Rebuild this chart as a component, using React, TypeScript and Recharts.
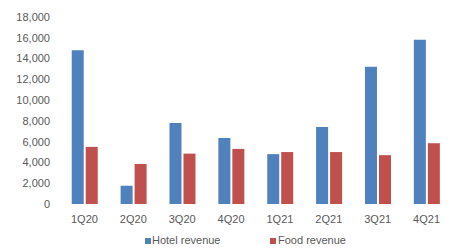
import React from 'react';
import { BarChart, Bar, XAxis, YAxis } from 'recharts';

const quarters = ['1Q20', '2Q20', '3Q20', '4Q20', '1Q21', '2Q21', '3Q21', '4Q21'];
const hotelRevenue = [14800, 1750, 7800, 6350, 4800, 7400, 13200, 15800];
const foodRevenue = [5500, 3850, 4850, 5300, 5000, 5000, 4700, 5850];
const yTicks = [0, 2000, 4000, 6000, 8000, 10000, 12000, 14000, 16000, 18000];

const data = quarters.map((q, i) => ({
  quarter: q,
  hotel: hotelRevenue[i],
  food: foodRevenue[i],
}));

const font = '"Liberation Sans", Arial, sans-serif';
const textColor = '#595959';

const LegendBox = () => (
  <div style={{ position: 'absolute', left: 0, top: 234, width: 465, height: 13, fontFamily: font, fontSize: 11, lineHeight: '13px', color: textColor }}>
    <div style={{ position: 'absolute', left: 145, top: 0, display: 'flex', alignItems: 'center' }}>
      <span style={{ width: 6, height: 6, background: '#4F81BD', marginRight: 1 }} />
      <span>Hotel revenue</span>
    </div>
    <div style={{ position: 'absolute', left: 270, top: 0, display: 'flex', alignItems: 'center' }}>
      <span style={{ width: 6, height: 6, background: '#C0504D', marginRight: 2 }} />
      <span>Food revenue</span>
    </div>
  </div>
);

export default function App() {
  return (
    <div style={{ position: 'relative', width: 465, height: 248, overflow: 'hidden', background: '#fff' }}>
      <style>{`body{margin:0}`}</style>
      <BarChart
        width={465}
        height={248}
        data={data}
        margin={{ top: 17, right: 14, left: 2, bottom: 24 }}
        barCategoryGap="24%"
        barGap={2}
      >
        <XAxis
          dataKey="quarter"
          axisLine={false}
          tickLine={false}
          tickMargin={5}
          interval={0}
          height={20}
          tick={{ fill: textColor, fontSize: 11, fontFamily: font }}
        />
        <YAxis
          width={58}
          domain={[0, 18000]}
          ticks={yTicks}
          interval={0}
          axisLine={false}
          tickLine={false}
          tickMargin={4}
          tickFormatter={(v: number) => v.toLocaleString('en-US')}
          tick={{ fill: textColor, fontSize: 11, fontFamily: font }}
        />
        <Bar dataKey="hotel" name="Hotel revenue" fill="#4F81BD" isAnimationActive={false} />
        <Bar dataKey="food" name="Food revenue" fill="#C0504D" isAnimationActive={false} />
      </BarChart>
      <LegendBox />
    </div>
  );
}
